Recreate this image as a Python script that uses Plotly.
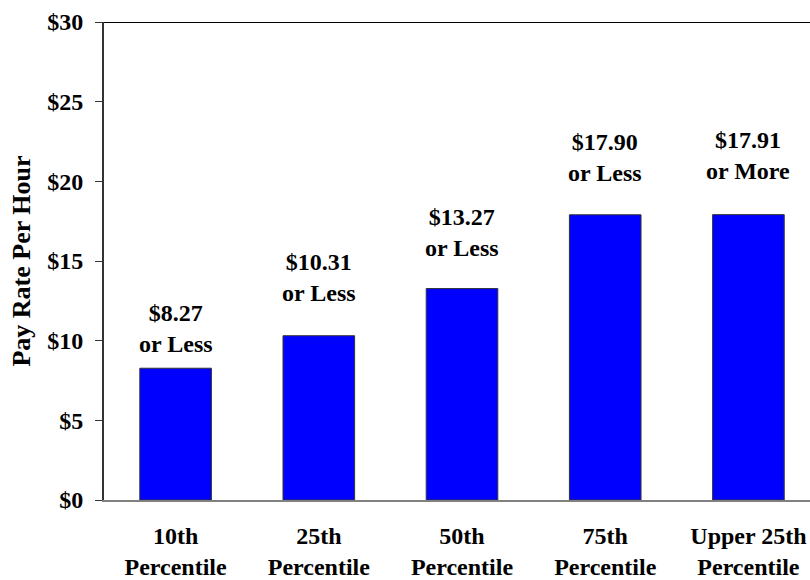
import plotly.graph_objects as go

categories = ["10th<br>Percentile", "25th<br>Percentile", "50th<br>Percentile",
              "75th<br>Percentile", "Upper 25th<br>Percentile"]
values = [8.27, 10.31, 13.27, 17.90, 17.91]
value_labels = ["$8.27", "$10.31", "$13.27", "$17.90", "$17.91"]
qualifiers = ["or Less", "or Less", "or Less", "or Less", "or More"]
tick_vals = [0, 5, 10, 15, 20, 25, 30]
tick_text = ["$0", "$5", "$10", "$15", "$20", "$25", "$30"]

# pixel offsets (style) of label block centres above bar tops
label_shift = [40, 58, 56, 57, 59]

FONT = "Liberation Serif"

fig = go.Figure()
fig.add_trace(go.Bar(
    x=categories, y=values, width=0.5,
    marker=dict(color="#0000FF", line=dict(color="#333333", width=1)),
))

for i, (c, v) in enumerate(zip(categories, values)):
    fig.add_annotation(x=c, y=v, text="<b>%s<br>%s</b>" % (value_labels[i], qualifiers[i]),
                       showarrow=False, yanchor="middle", yshift=label_shift[i],
                       font=dict(family=FONT, size=24, color="black"))

fig.add_shape(type="line", xref="paper", x0=0, x1=1, yref="y", y0=30, y1=30,
              line=dict(color="black", width=2))

fig.update_layout(
    width=810, height=580,
    margin=dict(l=104, r=0, t=22, b=78),
    paper_bgcolor="white", plot_bgcolor="white",
    showlegend=False,
    font=dict(family=FONT, size=24, color="black"),
    xaxis=dict(
        type="category", range=[-0.5, 4.43],
        showline=True, linecolor="#808080", linewidth=2,
        ticks="", showgrid=False, ticklabelstandoff=13,
        tickfont=dict(family=FONT, size=24, color="black"),
        tickvals=categories, ticktext=["<b>%s</b>" % c for c in categories],
    ),
    yaxis=dict(
        range=[0, 30], tickvals=tick_vals,
        ticktext=["<b>%s</b>" % t for t in tick_text],
        showline=True, linecolor="#333333", linewidth=2,
        ticks="outside", ticklen=7, tickcolor="#333333", tickwidth=1,
        ticklabelstandoff=7,
        showgrid=False, zeroline=False,
        tickfont=dict(family=FONT, size=24, color="black"),
        title=dict(text="<b>Pay Rate Per Hour</b>", font=dict(family=FONT, size=26, color="black"),
                   standoff=9),
    ),
)

fig.write_html(
    "out.html",
    config={"displayModeBar": False},
    post_script=("document.documentElement.style.overflow='hidden';"
                 "document.body.style.overflow='hidden';"
                 "document.body.style.margin='0px';"),
)
